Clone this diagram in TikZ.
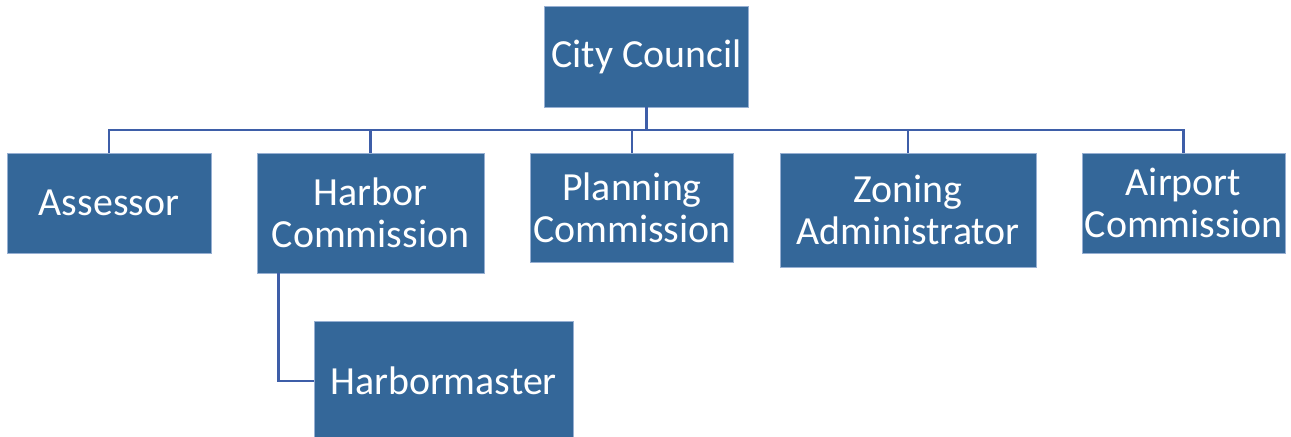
\documentclass[tikz,border=0pt]{standalone}
\usepackage{fontspec}
\setmainfont{Carlito}
\usepackage{tikz}
\usetikzlibrary{positioning, calc}

\definecolor{boxblue}{RGB}{52,103,153}
\definecolor{boxedge}{RGB}{150,175,210}
\definecolor{linkblue}{RGB}{62,94,168}

\begin{document}
\begin{tikzpicture}[
        x=0.02cm, y=-0.02cm,
        unit/.style={draw=boxedge, line width=0.4pt, fill=boxblue, text=white, rectangle, align=center, inner sep=0pt, font=\fontsize{22.7}{24}\selectfont},
        link/.style={draw=linkblue, line width=1.6pt}
      ]
      \useasboundingbox (0,0) rectangle (1291,436);

      % top
      \node[unit, minimum width=4.08cm, minimum height=2.02cm] (council) at (646.5,56.5) {City Council};

      % second row
      \node[unit, minimum width=4.08cm, minimum height=2.0cm] (assessor) at (109,203) {Assessor};
      \node[unit, minimum width=4.54cm, minimum height=2.4cm] (harbor) at (370.5,213) {Harbor\\Commission};
      \node[unit, minimum width=4.06cm, minimum height=2.18cm] (planning) at (632,207.5) {Planning\\Commission};
      \node[unit, minimum width=5.12cm, minimum height=2.28cm] (zoning) at (908,210) {Zoning\\Administrator};
      \node[unit, minimum width=4.06cm, minimum height=2.0cm] (airport) at (1183.5,203) {Airport\\Commission};

      % under harbor
      \node[unit, minimum width=5.18cm, minimum height=2.4cm] (harbormaster) at (443.5,381) {Harbormaster};

      % edges
      \coordinate (bar) at (0,130);
      \draw[link] (council.south) -- (council.south |- bar) -| (assessor.north);
      \draw[link] (council.south |- bar) -| (harbor.north);
      \draw[link] (council.south |- bar) -| (planning.north);
      \draw[link] (council.south |- bar) -| (zoning.north);
      \draw[link] (council.south |- bar) -| (airport.north);
      \draw[link] ($(harbor.south west)+(22,0)$) |- (harbormaster.west);

\end{tikzpicture}
\end{document}
